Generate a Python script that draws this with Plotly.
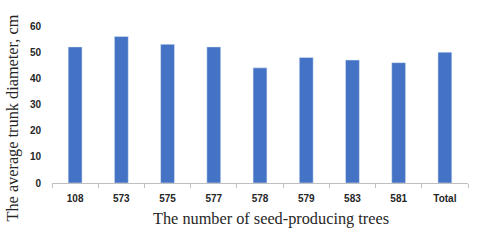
import plotly.graph_objects as go

categories = ["108", "573", "575", "577", "578", "579", "583", "581", "Total"]
values = [52, 56, 53, 52, 44, 48, 47, 46, 50]
y_ticks = [0, 10, 20, 30, 40, 50, 60]
x_title = "The number of seed-producing trees"
y_title = "The average trunk diameter, cm"

W, H = 480, 243
L, R, T, B = 52, 12, 26, 60
pw, ph = W - L - R, H - T - B

fig = go.Figure(go.Bar(x=categories, y=values, marker_color="#4472C4", width=0.3))

fig.update_layout(
    width=W, height=H,
    margin=dict(l=L, r=R, t=T, b=B),
    paper_bgcolor="white", plot_bgcolor="white",
    showlegend=False,
    xaxis=dict(
        type="category", automargin=False,
        showline=True, linecolor="#BFBFBF", linewidth=1,
        ticks="outside", ticklen=4, tickcolor="#BFBFBF", tickson="boundaries",
        ticklabelstandoff=6,
        tickfont=dict(family="Arial", size=10, color="#262626", weight="bold"),
    ),
    yaxis=dict(
        range=[0, 60], tickvals=y_ticks, showgrid=False, zeroline=False,
        showline=False, ticks="", automargin=False,
        ticklabelstandoff=10,
        tickfont=dict(family="Arial", size=10, color="#262626", weight="bold"),
    ),
    annotations=[
        dict(text=x_title, xref="paper", yref="paper",
             x=(271 - L) / pw, y=-(218 - (T + ph)) / ph,
             xanchor="center", yanchor="middle", showarrow=False,
             font=dict(family="Liberation Serif", size=16.3, color="#262626")),
        dict(text=y_title, xref="paper", yref="paper",
             x=-(L - 12) / pw, y=1 - (118.5 - T) / ph, textangle=-90,
             xanchor="center", yanchor="middle", showarrow=False,
             font=dict(family="Liberation Serif", size=16.3, color="#262626")),
    ],
)

fig.write_html("out.html", config={"displayModeBar": False},
               post_script="document.body.style.margin='0';")
